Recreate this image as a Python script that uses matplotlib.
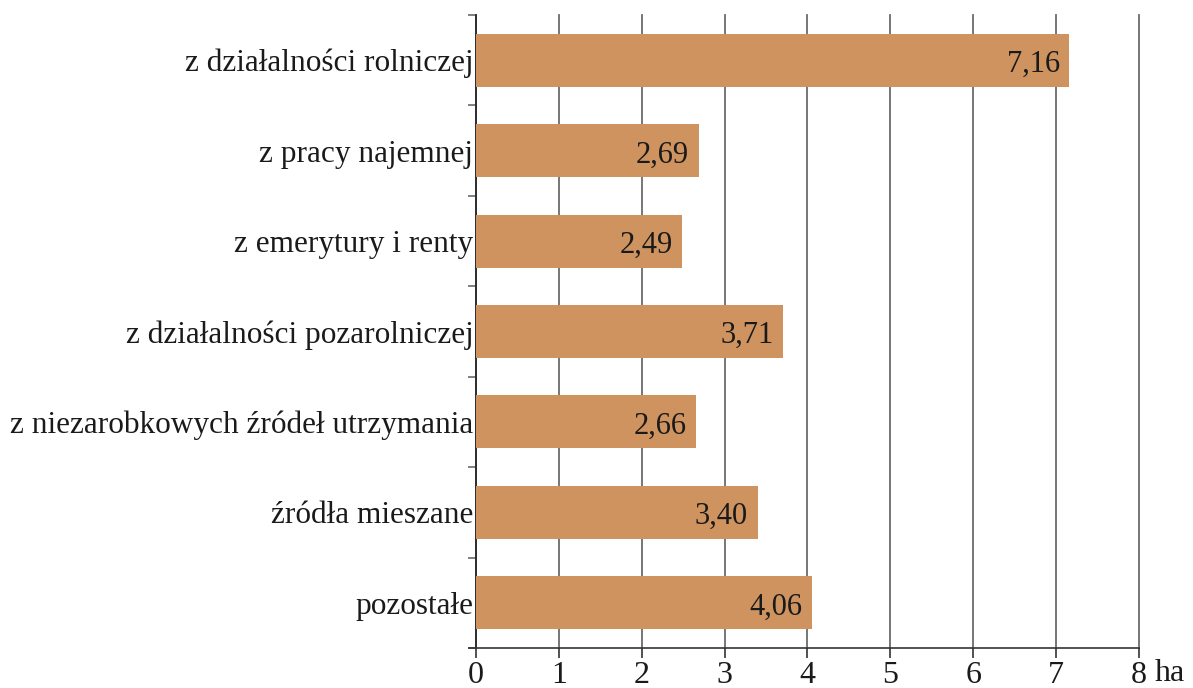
import matplotlib
matplotlib.use('Agg')
import matplotlib.pyplot as plt
import numpy as np

categories = ['z działalności rolniczej', 'z pracy najemnej', 'z emerytury i renty',
              'z działalności pozarolniczej', 'z niezarobkowych źródeł utrzymania',
              'źródła mieszane', 'pozostałe']
values = [7.16, 2.69, 2.49, 3.71, 2.66, 3.40, 4.06]
xticks = [0, 1, 2, 3, 4, 5, 6, 7, 8]
unit = 'ha'

plt.rcParams['font.family'] = ['Liberation Serif', 'DejaVu Serif']
plt.rcParams['font.size'] = 22.5

fig = plt.figure(figsize=(11.93, 6.88), dpi=100)
ax = fig.add_axes([0.399, 0.0581, 0.5557, 0.9201])

n = len(categories)
y = np.arange(n)[::-1]
ax.barh(y, values, height=0.585, color='#CE935F', zorder=3)

for yi, v in zip(y, values):
    ax.annotate(f'{v:.2f}'.replace('.', ','), xy=(v, yi), xytext=(-7, -0.5),
                textcoords='offset points', ha='right', va='center_baseline',
                color='#1a1a1a', fontsize=22)

ax.set_xlim(0, 8)
ax.set_ylim(-0.5, n - 0.5)

ax.set_xticks(xticks)
ax.set_xticklabels([str(t) for t in xticks])
ax.xaxis.grid(True, color='#6b6b6b', linewidth=1.3, zorder=0)
ax.set_axisbelow(True)
for gl in ax.get_xgridlines():
    gl.set_clip_on(False)

# category labels at centers, ticks at boundaries
ax.set_yticks(y)
ax.set_yticklabels(categories)
ax.tick_params(axis='y', which='major', length=0, pad=2, labelcolor='#1a1a1a')
ax.set_yticks(np.arange(-0.5, n, 1.0), minor=True)
ax.tick_params(axis='y', which='minor', direction='out', length=6, width=1.2, color='#6b6b6b')

ax.tick_params(axis='x', direction='out', length=7, width=1.2, color='#333333',
               pad=2, labelcolor='#1a1a1a', labelsize=23)

for s in ['top', 'right']:
    ax.spines[s].set_visible(False)
ax.spines['left'].set_color('#222222')
ax.spines['left'].set_linewidth(1.2)
ax.spines['bottom'].set_color('#333333')
ax.spines['bottom'].set_linewidth(1.2)
ax.spines['bottom'].set_bounds(-0.08, 8)

ax.annotate(unit, xy=(8, 0), xycoords=('data', 'axes fraction'), xytext=(11, -7.6),
            textcoords='offset points', ha='left', va='top', color='#1a1a1a', fontsize=23)

fig.savefig('out.png', dpi=100)
